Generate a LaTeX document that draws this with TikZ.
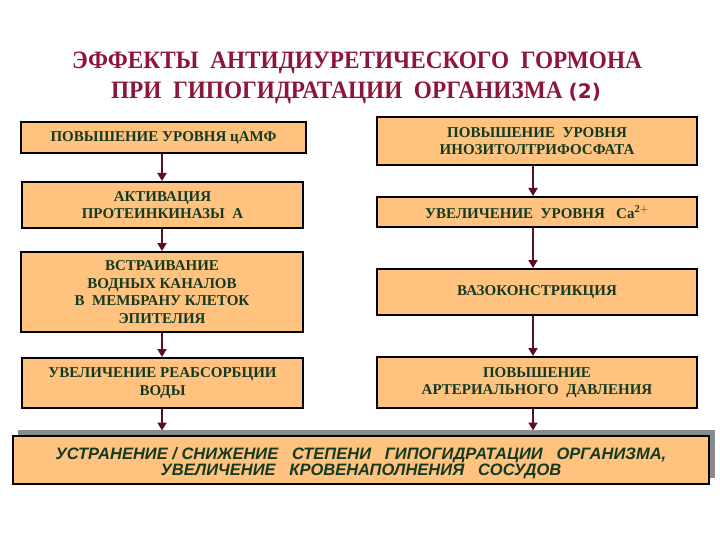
\documentclass[tikz,border=0pt]{standalone}
\usepackage{fontspec}
\setmainfont{Liberation Serif}
\newfontfamily\sansbold{Liberation Sans}
\newfontfamily\dejasans{DejaVu Sans}
\usetikzlibrary{arrows.meta}
\definecolor{boxfill}{HTML}{FFC27F}
\definecolor{txtgreen}{HTML}{143A22}
\definecolor{titlered}{HTML}{8E1538}
\definecolor{arrowc}{HTML}{5C0A2E}
\definecolor{shadowgray}{HTML}{8A8A8A}
\tikzset{
  flowbox/.style={draw=black, line width=2pt, fill=boxfill, text=txtgreen,
    font=\fontsize{15}{17.5}\selectfont\bfseries, align=center, inner sep=0pt},
  flowarrow/.style={draw=arrowc, line width=2pt, -{Triangle[width=9pt,length=8pt]}},
}
\begin{document}
\begin{tikzpicture}[x=1pt,y=-1pt]
\useasboundingbox (0,0) rectangle (720,540);
% title
\node[text=titlered, font=\fontsize{25}{30}\selectfont\bfseries] (t1) at (357,63)
  {\scalebox{0.93}[1]{ЭФФЕКТЫ\ \ АНТИДИУРЕТИЧЕСКОГО\ \ ГОРМОНА}};
\node[text=titlered, font=\fontsize{25}{30}\selectfont\bfseries] (t2) at (356,93)
  {\scalebox{0.93}[1]{ПРИ\ \ ГИПОГИДРАТАЦИИ\ \ ОРГАНИЗМА} {\dejasans\bfseries\fontsize{20}{22}\selectfont(2)}};
% left column
\node[flowbox, minimum width=285pt, minimum height=31pt] (l1) at (163.5,137.5) {ПОВЫШЕНИЕ УРОВНЯ цАМФ};
\node[flowbox, minimum width=281pt, minimum height=46pt] (l2) at (162.5,205) {АКТИВАЦИЯ\\ПРОТЕИНКИНАЗЫ\ \ А};
\node[flowbox, minimum width=282pt, minimum height=80pt] (l3) at (162,292) {ВСТРАИВАНИЕ\\ВОДНЫХ КАНАЛОВ\\В\ \ МЕМБРАНУ КЛЕТОК\\ЭПИТЕЛИЯ};
\node[flowbox, minimum width=281pt, minimum height=50pt] (l4) at (162.5,383) {УВЕЛИЧЕНИЕ РЕАБСОРБЦИИ\\ВОДЫ};
% right column
\node[flowbox, minimum width=320pt, minimum height=48pt] (r1) at (537,141) {ПОВЫШЕНИЕ\ \ УРОВНЯ\\ИНОЗИТОЛТРИФОСФАТА};
\node[flowbox, minimum width=320pt, minimum height=30pt] (r2) at (537,212) {УВЕЛИЧЕНИЕ\ \ УРОВНЯ\ \ \ Ca$^{\mathbf{2+}}$};
\node[flowbox, minimum width=320pt, minimum height=46pt] (r3) at (537,292) {ВАЗОКОНСТРИКЦИЯ};
\node[flowbox, minimum width=320pt, minimum height=51pt] (r4) at (537,382.5) {ПОВЫШЕНИЕ\\АРТЕРИАЛЬНОГО\ \ ДАВЛЕНИЯ};
% bottom box with shadow
\fill[shadowgray] (18,430) rectangle (715,478);
\node[draw=black, line width=2pt, fill=boxfill, minimum width=696pt, minimum height=48pt, inner sep=0pt] (b) at (361,460) {};
\node[text=txtgreen, font=\sansbold\fontsize{16.5}{16}\selectfont\bfseries\itshape, align=center, inner sep=0pt]
  (btext) at ([yshift=-3.5pt]b.center)
  {УСТРАНЕНИЕ / СНИЖЕНИЕ\ \ \ СТЕПЕНИ\ \ \ ГИПОГИДРАТАЦИИ\ \ \ ОРГАНИЗМА,\\УВЕЛИЧЕНИЕ\ \ \ КРОВЕНАПОЛНЕНИЯ\ \ \ СОСУДОВ};
\coordinate (bl) at (162,430.5);
\coordinate (br) at (533,430.5);
% arrows
\draw[flowarrow] (l1.south -| bl) -- (l2.north -| bl);
\draw[flowarrow] (l2.south -| bl) -- (l3.north -| bl);
\draw[flowarrow] (l3.south -| bl) -- (l4.north -| bl);
\draw[flowarrow] (l4.south -| bl) -- (bl);
\draw[flowarrow] (r1.south -| br) -- (r2.north -| br);
\draw[flowarrow] (r2.south -| br) -- (r3.north -| br);
\draw[flowarrow] (r3.south -| br) -- (r4.north -| br);
\draw[flowarrow] (r4.south -| br) -- (br);
\end{tikzpicture}
\end{document}
